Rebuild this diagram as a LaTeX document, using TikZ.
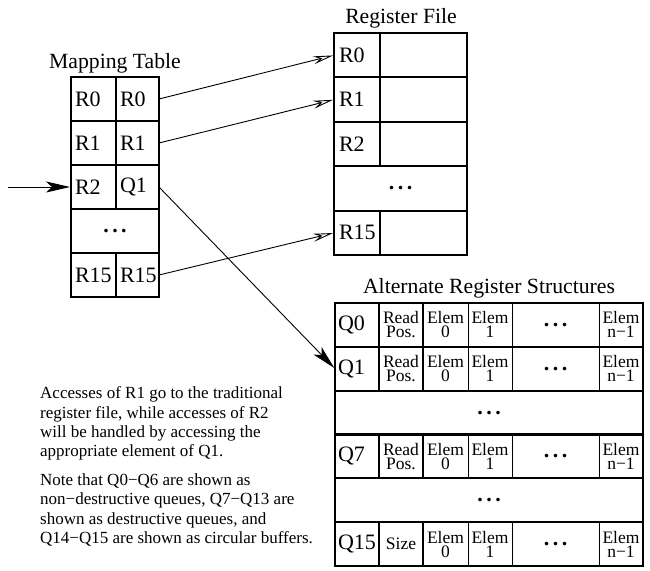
\documentclass[tikz,border=0pt]{standalone}
\usepackage{fontspec}
\setmainfont{Liberation Serif}
\usetikzlibrary{arrows.meta}
\newcommand\cellfnt{\fontsize{22}{22}\selectfont}
\newcommand\smallfnt{\fontsize{17.5}{14}\selectfont}
\newcommand\titlefnt{\fontsize{21.7}{24}\selectfont}
\newcommand\capfnt{\fontsize{17}{19.4}\selectfont}
\newcommand\mydots{\raisebox{-2.5pt}{\bfseries .\hspace{3.5pt}.\hspace{3.5pt}.}}
\begin{document}
\begin{tikzpicture}[x=1pt,y=-1pt,
  thk/.style={line width=2pt},
  cellbase/.style={draw, thk, inner sep=0pt, outer sep=0pt, font=\cellfnt},
  mcell/.style={cellbase, minimum height=44pt, inner xsep=4pt, align=left},
  rcell/.style={cellbase, minimum height=44.4pt},
  rlcell/.style={rcell, text width=36pt, inner xsep=5pt, align=left},
  qcell/.style={cellbase, minimum height=43.83pt, text width=38pt, inner xsep=3pt, align=left},
  rdcell/.style={cellbase, minimum width=44pt, minimum height=43.83pt, font=\smallfnt, align=center},
  ecell/.style={draw, line width=1pt, inner sep=0pt, outer sep=0pt, minimum width=44pt, minimum height=43.83pt, font=\smallfnt, align=center},
  fullrow/.style={cellbase, minimum height=43.83pt, minimum width=308pt},
  title/.style={font=\titlefnt, anchor=base, inner sep=0pt},
  captxt/.style={font=\capfnt, anchor=north west, align=left, inner sep=0pt},
  arr/.style={line width=0.9pt},
  fillhead/.style={-{Stealth[length=24pt,width=11pt,inset=6pt]}},
  openhead/.style={-{Stealth[open,length=20pt,width=8pt,inset=7pt]}}
]
\useasboundingbox (0,0) rectangle (650,570);

% titles
\node[title] (tmap) at (115,68) {Mapping Table};
\node[title] (treg) at (401,23.5) {Register File};
\node[title] (talt) at (489,293) {Alternate Register Structures};

% mapping table
\node[mcell, text width=37pt] (m00) at (93.5,99) {R0};
\node[mcell, text width=35pt] (m01) at (137.5,99) {R0};
\node[mcell, text width=37pt] (m10) at (93.5,143) {R1};
\node[mcell, text width=35pt] (m11) at (137.5,143) {R1};
\node[mcell, text width=37pt] (m20) at (93.5,187) {R2};
\node[mcell, text width=35pt] (m21) at (137.5,187) {Q1};
\node[cellbase, minimum width=88pt, minimum height=44pt] (mdots) at (115,231) {\mydots};
\node[mcell, text width=37pt] (m40) at (93.5,275) {R15};
\node[mcell, text width=35pt] (m41) at (137.5,275) {R15};

% register file
\node[rlcell] (r0) at (357,55.2) {R0};
\node[rcell, minimum width=87pt] (r0v) at (423.5,55.2) {};
\node[rlcell] (r1) at (357,99.6) {R1};
\node[rcell, minimum width=87pt] (r1v) at (423.5,99.6) {};
\node[rlcell] (r2) at (357,144) {R2};
\node[rcell, minimum width=87pt] (r2v) at (423.5,144) {};
\node[rcell, minimum width=133pt] (rdots) at (400.5,188.4) {\mydots};
\node[rlcell] (r15) at (357,232.8) {R15};
\node[rcell, minimum width=87pt] (r15v) at (423.5,232.8) {};

% alternate register structures
% Q0
\node[qcell] (q0) at (357,324.9) {Q0};
\node[rdcell] (q0r) at (401,324.9) {Read\\Pos.};
\node[ecell, minimum width=45pt] (q0e0) at (445.5,324.9) {Elem\\0};
\node[ecell] (q0e1) at (490,324.9) {Elem\\1};
\node[ecell, minimum width=87pt, font=\cellfnt] (q0d) at (555.5,324.9) {\mydots};
\node[ecell] (q0n) at (621,324.9) {Elem\\n−1};
% Q1
\node[qcell] (q1) at (357,368.75) {Q1};
\node[rdcell] (q1r) at (401,368.75) {Read\\Pos.};
\node[ecell, minimum width=45pt] (q1e0) at (445.5,368.75) {Elem\\0};
\node[ecell] (q1e1) at (490,368.75) {Elem\\1};
\node[ecell, minimum width=87pt, font=\cellfnt] (q1d) at (555.5,368.75) {\mydots};
\node[ecell] (q1n) at (621,368.75) {Elem\\n−1};
% dots
\node[fullrow] (qdots1) at (489,412.6) {\mydots};
% Q7
\node[qcell] (q7) at (357,456.4) {Q7};
\node[rdcell] (q7r) at (401,456.4) {Read\\Pos.};
\node[ecell, minimum width=45pt] (q7e0) at (445.5,456.4) {Elem\\0};
\node[ecell] (q7e1) at (490,456.4) {Elem\\1};
\node[ecell, minimum width=87pt, font=\cellfnt] (q7d) at (555.5,456.4) {\mydots};
\node[ecell] (q7n) at (621,456.4) {Elem\\n−1};
% dots
\node[fullrow] (qdots2) at (489,500.25) {\mydots};
% Q15
\node[qcell] (q15) at (357,544.1) {Q15};
\node[rdcell] (q15r) at (401,544.1) {Size};
\node[ecell, minimum width=45pt] (q15e0) at (445.5,544.1) {Elem\\0};
\node[ecell] (q15e1) at (490,544.1) {Elem\\1};
\node[ecell, minimum width=87pt, font=\cellfnt] (q15d) at (555.5,544.1) {\mydots};
\node[ecell] (q15n) at (621,544.1) {Elem\\n−1};
% thick row frames
\draw[thk] (q0.north west) rectangle (q0n.south east);
\draw[thk] (q1.north west) rectangle (q1n.south east);
\draw[thk] (q7.north west) rectangle (q7n.south east);
\draw[thk] (q15.north west) rectangle (q15n.south east);
\draw[line width=2.4pt] (q0.north west) rectangle (q15n.south east);

% connectors
\coordinate (in) at (8,187);
\draw[arr, fillhead, shorten >=1pt] (in) -- (m20.west);
\draw[arr, openhead, shorten >=1pt] (m01.east) -- (r0.west);
\draw[arr, openhead, shorten >=1pt] (m11.east) -- (r1.west);
\draw[arr, openhead, shorten >=1pt] (m41.east) -- (r15.west);
\draw[arr, fillhead, shorten >=1pt] (m21.east) -- (q1.west);

% caption
\node[captxt] (cap1) at (40,386.5) {Accesses of R1 go to the traditional\\register file, while accesses of R2\\will be handled by accessing the\\appropriate element of Q1.};
\node[captxt] (cap2) at (40,473.5) {Note that Q0−Q6 are shown as\\non−destructive queues, Q7−Q13 are\\shown as destructive queues, and\\Q14−Q15 are shown as circular buffers.};
\end{tikzpicture}
\end{document}
